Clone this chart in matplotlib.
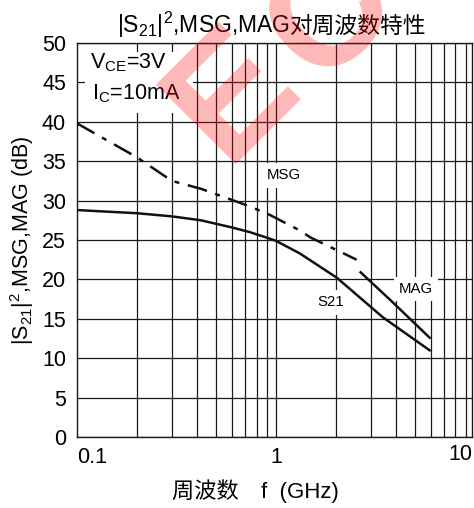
import matplotlib
matplotlib.use("Agg")
import matplotlib.pyplot as plt
import matplotlib.transforms as mtransforms
import matplotlib.patheffects as pe
from matplotlib.patches import Rectangle
from matplotlib.ticker import FixedLocator, NullFormatter

plt.rcParams['font.family'] = ['Liberation Sans', 'Noto Sans CJK SC', 'DejaVu Sans']
plt.rcParams['mathtext.fontset'] = 'custom'
plt.rcParams['mathtext.rm'] = 'Liberation Sans'
plt.rcParams['mathtext.it'] = 'Liberation Sans'

# ---- data ----
msg_f = [0.1, 0.2, 0.3, 0.42, 0.6, 0.75, 0.93, 1.3, 1.5, 2.55]
msg_v = [39.8, 35.5, 32.5, 31.5, 30.1, 29.2, 28.2, 26.3, 25.3, 22.5]
mag_f = [2.67, 3.87, 5.94]
mag_v = [20.9, 17.1, 12.6]
s21_f = [0.1, 0.2, 0.3, 0.42, 0.6, 0.74, 0.9, 1.0, 1.32, 2.03, 3.45, 5.94]
s21_v = [28.8, 28.4, 28.0, 27.5, 26.6, 26.0, 25.3, 24.9, 23.3, 20.2, 15.2, 11.0]
y_ticks = [0, 5, 10, 15, 20, 25, 30, 35, 40, 45, 50]
x_major = [0.1, 1]
x_major_labels = ["0.1", "1"]
x_grid = [0.2, 0.3, 0.4, 0.5, 0.6, 0.7, 0.8, 0.9, 1, 2, 3, 4, 5, 6, 7, 8, 9]

FS = 15.5
W, H = 474, 508
fig = plt.figure(figsize=(W / 100, H / 100), dpi=100)
ax = fig.add_axes([77 / W, 1 - 437 / H, (472 - 77) / W, (437 - 43) / H])
ax.set_facecolor('none')

ax.set_xscale('log')
ax.set_xlim(0.1, 9.7)
ax.set_ylim(0, 50)

for g in x_grid:
    ax.axvline(g, color='#1a1a1a', lw=0.9, zorder=1)
for g in y_ticks:
    ax.axhline(g, color='#1a1a1a', lw=0.9, zorder=1)

ax.plot(msg_f, msg_v, color='#111111', lw=1.8, linestyle=(0, (8, 3.5, 2, 3.5)), zorder=3)
ax.plot(mag_f, mag_v, color='#111111', lw=1.8, zorder=3)
ax.plot(s21_f, s21_v, color='#111111', lw=1.8, zorder=3)

ax.xaxis.set_major_locator(FixedLocator(x_major))
ax.xaxis.set_minor_locator(FixedLocator([]))
ax.xaxis.set_minor_formatter(NullFormatter())
ax.set_xticklabels(x_major_labels)
ax.get_xticklabels()[0].set_ha('left')
ax.set_yticks(y_ticks)
ax.tick_params(axis='both', length=0, labelsize=FS)
ax.tick_params(axis='x', pad=7)
ax.tick_params(axis='y', pad=8)
trans = mtransforms.blended_transform_factory(ax.transData, ax.transAxes)
ax.text(9.7, -7 / 394, "10", transform=trans, ha='right', va='top', fontsize=FS)

for s in ax.spines.values():
    s.set_linewidth(1.0)
    s.set_color('#1a1a1a')

# condition box
ax.add_patch(Rectangle((0.1097, 41.1), 0.383 - 0.1097, 48.9 - 41.1,
                       facecolor='white', edgecolor='none', zorder=2))
ax.text(0.1162, 46.8, r"V$_{\mathregular{CE}}$=3V", fontsize=FS, va='baseline', ha='left', zorder=4)
ax.text(0.119, 42.8, r"I$_{\mathregular{C}}$=10mA", fontsize=FS, va='baseline', ha='left', zorder=4)

box = dict(facecolor='white', edgecolor='none', pad=4)
ax.text(1.10, 33.2, "MSG", fontsize=10.8, ha='center', va='center', bbox=box, zorder=4)
ax.text(1.89, 17.1, "S21", fontsize=10.8, ha='center', va='center', bbox=box, zorder=4)
ax.text(5.06, 18.8, "MAG", fontsize=10.8, ha='center', va='center',
        bbox=dict(facecolor='white', edgecolor='none', pad=3.5), zorder=4)

# title in two pieces (math part + CJK part)
fig.text(290 / W, 1 - 33 / H, r"|S$_{\mathregular{21}}$|$^{\mathregular{2}}$,MSG,MAG",
         fontsize=16.5, ha='right', va='baseline')
fig.text(290 / W, 1 - 33 / H, "对周波数特性", fontsize=16.4, ha='left', va='baseline')

ax.set_xlabel("周波数　f  (GHz)", fontsize=16, labelpad=8, x=0.453)
ax.set_ylabel(r"|S$_{\mathregular{21}}$|$^{\mathregular{2}}$,MSG,MAG (dB)", fontsize=FS,
              labelpad=4)

# watermark (two letters, wide spacing), drawn as vector outlines of real text
wm = dict(fontweight='bold', color='#ff0000', alpha=0.28, rotation=45,
          rotation_mode='anchor', ha='left', va='baseline', zorder=10,
          path_effects=[pe.Normal()])
fig.text(228 / W, 1 - 172 / H, "E", fontsize=118, **wm)
fig.text(322 / W, 1 - 90 / H, "C", fontsize=112, **wm)

fig.savefig("out.png", dpi=100)
